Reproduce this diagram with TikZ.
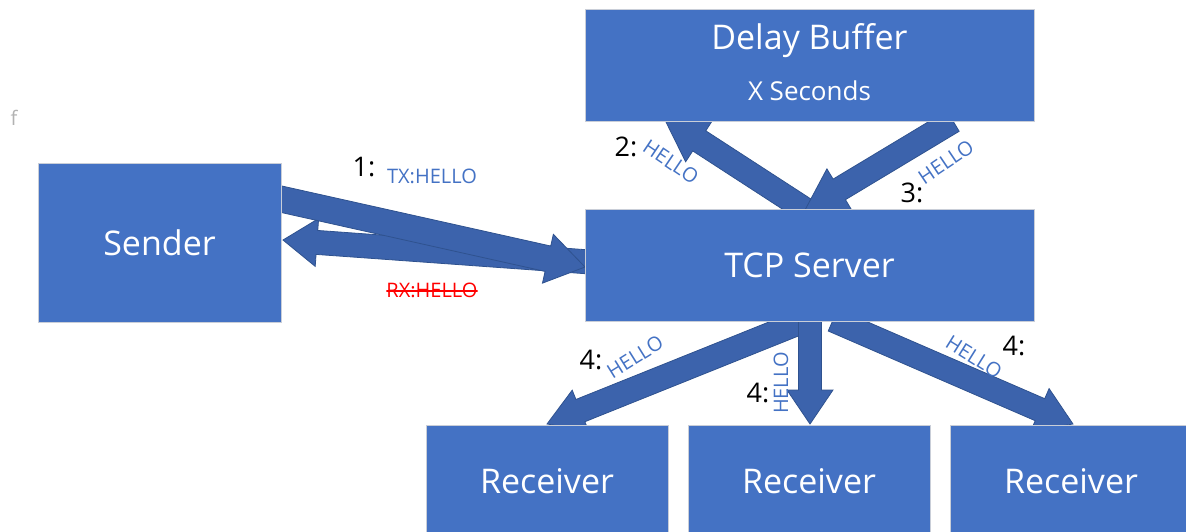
\documentclass[tikz,border=0pt]{standalone}
\usepackage{fontspec}
\setmainfont{Open Sans}
\usetikzlibrary{calc}

\definecolor{boxblue}{HTML}{4472C4}
\definecolor{arrowfill}{HTML}{3C63AC}
\definecolor{arrowline}{HTML}{2F528F}
\definecolor{boxline}{HTML}{C9CED8}
\definecolor{msgblue}{HTML}{4472C4}

\tikzset{
  box/.style={fill=boxblue, draw=boxline, line width=1pt, text=white,
    minimum width=#1, inner sep=0pt, font=\fontsize{34}{40}\selectfont},
  box/.default=242pt,
  barrow/.style={fill=arrowfill, draw=arrowline, line width=0.8pt, line join=miter},
  stepnum/.style={text=black, inner sep=0pt, font=\fontsize{27}{30}\selectfont},
  msg/.style={text=msgblue, inner sep=0pt, font=\fontsize{20}{23}\selectfont},
  struck/.style={path picture={
    \draw[red, line width=1.3pt]
      ($(path picture bounding box.west)+(0,1)$) -- ($(path picture bounding box.east)+(0,1)$);}},
}

% block arrow: #1 tail, #2 tip, #3 shaft width, #4 head width, #5 head length
\newcommand\blockarrow[5]{%
  \filldraw[barrow] let \p1=(#1), \p2=(#2),
      \n1={atan2(\y2-\y1,\x2-\x1)}, \n2={veclen(\x2-\x1,\y2-\y1)} in
    ($(\p1)+({\n1+90}:{#3/2})$) -- ++(\n1:{\n2-#5})
    -- ++({\n1+90}:{(#4-#3)/2}) -- (\p2)
    -- ($(\p2)+({\n1+180}:{#5})+({\n1-90}:{#4/2})$)
    -- ++({\n1+90}:{(#4-#3)/2})
    -- ($(\p1)+({\n1-90}:{#3/2})$) -- cycle;}

\begin{document}
\begin{tikzpicture}[x=1pt, y=-1pt]
\useasboundingbox (0,0) rectangle (1186,531);
\clip (0,0) rectangle (1186,531);

% anchor points of the block arrows (placed first, boxes come later on top)
\coordinate (txA) at (276,198);
\coordinate (txB) at (585,267);
\coordinate (rxA) at (590,262);
\coordinate (rxB) at (283,240);
\coordinate (upA) at (812,214);
\coordinate (upB) at (664,118);
\coordinate (dnA) at (953,121);
\coordinate (dnB) at (805,210);
\coordinate (r1A) at (806,320);
\coordinate (r1B) at (547,424);
\coordinate (r2A) at (810,318);
\coordinate (r2B) at (810,424);
\coordinate (r3A) at (833,320);
\coordinate (r3B) at (1073,424);

% arrows
\blockarrow{rxA}{rxB}{24pt}{48pt}{34pt}
\blockarrow{txA}{txB}{26pt}{50pt}{38pt}
\blockarrow{upA}{upB}{24pt}{50pt}{42pt}
\blockarrow{dnA}{dnB}{24pt}{48pt}{40pt}
\blockarrow{r1A}{r1B}{24pt}{44pt}{36pt}
\blockarrow{r2A}{r2B}{23pt}{46pt}{34pt}
\blockarrow{r3A}{r3B}{24pt}{46pt}{36pt}

% boxes
\node[box=449pt, minimum height=112pt] (delay) at (809.5,65) {};
\node[text=white, font=\fontsize{34}{40}\selectfont] (delaytitle) at (809.5,41) {Delay Buffer};
\node[text=white, font=\fontsize{26}{30}\selectfont] (delaytime) at (809.5,91) {X Seconds};
\node[box=243pt, minimum height=159pt] (sender) at (159.5,242.5) {Sender};
\node[box=449pt, minimum height=112pt] (tcp) at (809.5,265) {TCP Server};
\node[box, minimum height=112pt] (rec1) at (547,481) {Receiver};
\node[box, minimum height=112pt] (rec2) at (809,481) {Receiver};
\node[box, minimum height=112pt] (rec3) at (1071,481) {Receiver};

% stray mark
\node[text=black!30, font=\fontsize{20}{24}\selectfont] (mark) at (14,118) {f};

% message labels
\node[stepnum] (n1) at (364,167) {1:};
\node[msg] (m1) at (432,176) {TX:HELLO};
\node[msg, text=red, struck] (m1r) at (432,290) {RX:HELLO};
\node[stepnum] (n2) at (626,147) {2:};
\node[msg, rotate=-34] (m2) at (671,162) {HELLO};
\node[stepnum] (n3) at (912,193) {3:};
\node[msg, rotate=34] (m3) at (946,162) {HELLO};
\node[stepnum] (n4a) at (591,360) {4:};
\node[msg, rotate=32] (m4a) at (635,357) {HELLO};
\node[stepnum] (n4b) at (758,393) {4:};
\node[msg, rotate=90] (m4b) at (781,383) {HELLO};
\node[stepnum] (n4c) at (1014,346) {4:};
\node[msg, rotate=-32] (m4c) at (974,357) {HELLO};
\end{tikzpicture}
\end{document}
